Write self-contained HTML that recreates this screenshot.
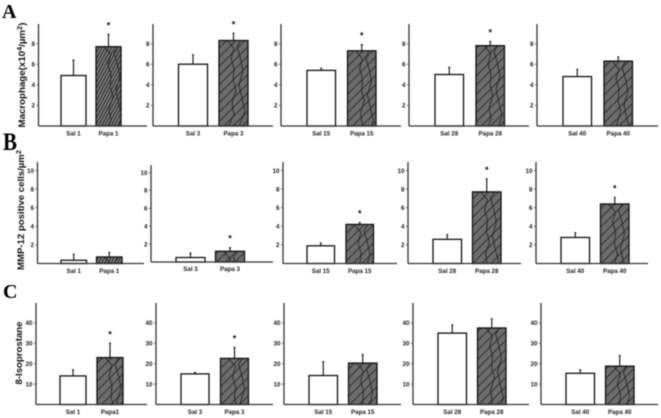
<!DOCTYPE html>
<html lang="en">
<head>
<meta charset="utf-8">
<title>Macrophage, MMP-12 and 8-Isoprostane bar charts</title>
<style>
html,body{margin:0;padding:0;background:#fff;}
#figure{display:block;width:661px;height:418px;filter:blur(0.5px);}
text{font-family:"Liberation Sans",sans-serif;}
.tick{font-size:6.3px;font-weight:bold;fill:#222;text-anchor:end;}
.cat{font-size:6.2px;font-weight:bold;fill:#222;text-anchor:middle;}
.star{font-size:9px;font-weight:bold;fill:#111;text-anchor:middle;}
.ylab{font-size:9px;font-weight:bold;fill:#111;text-anchor:middle;}
.letter{font-family:"Liberation Serif",serif;font-weight:bold;fill:#000;}
</style>
</head>
<body>
<svg id="figure" xmlns="http://www.w3.org/2000/svg" width="661" height="418" viewBox="0 0 661 418">
  <defs>
    <pattern id="hatch" patternUnits="userSpaceOnUse" width="6.5" height="7" patternTransform="rotate(45)">
      <rect width="6.5" height="7" fill="#6c6c6c"></rect>
      <line x1="0" y1="0" x2="0" y2="7" stroke="#1e1e1e" stroke-width="1.5"></line>
    </pattern>
    <pattern id="hatch-dense" patternUnits="userSpaceOnUse" width="2.8" height="5" patternTransform="rotate(28)">
      <rect width="2.8" height="5" fill="#7c7c7c"></rect>
      <line x1="0" y1="0" x2="0" y2="5" stroke="#181818" stroke-width="1.7"></line>
    </pattern>
    <pattern id="zigzag" patternUnits="objectBoundingBox" width="1" height="1">
      <path d="M8 0L15 8L12 18L15 28L14 40L17 50L13 62L15 74L10 84L19 96L14 110M22 0L18 6L21 16L24 30L20 44L23 58L26 70L21 84L25 98L22 110" fill="none" stroke="#1e1e1e" stroke-width="0.8"></path>
    </pattern>
  </defs>
  <rect width="661" height="418" fill="#fff"></rect>
  <text class="letter" x="2" y="18" font-size="20">A</text>
  <text class="letter" x="3" y="150" font-size="25" textLength="14" lengthAdjust="spacingAndGlyphs">B</text>
  <text class="letter" x="3" y="298" font-size="20">C</text>
  <text class="ylab" transform="translate(25,75) rotate(-90)" textLength="105" lengthAdjust="spacingAndGlyphs">Macrophage(x10<tspan font-size="7" dy="-3">4</tspan><tspan dy="3">/µm</tspan><tspan font-size="7" dy="-3">2</tspan><tspan dy="3">)</tspan></text>
  <text class="ylab" transform="translate(24,210) rotate(-90)" textLength="120" lengthAdjust="spacingAndGlyphs">MMP-12 positive cells/µm<tspan font-size="7" dy="-3">2</tspan></text>
  <text class="ylab" transform="translate(22,353) rotate(-90)" textLength="63" lengthAdjust="spacingAndGlyphs">8-Isoprostane</text>
  <g id="plots"></g>
</svg>
<script>
// ---- data ----
const salCategories = ["Sal 1", "Sal 3", "Sal 15", "Sal 28", "Sal 40"];
const papaCategories = ["Papa 1", "Papa 3", "Papa 15", "Papa 28", "Papa 40"];
const papaCategoriesC = ["Papa1", "Papa 3", "Papa 15", "Papa 28", "Papa 40"];

const macrophageSal = [4.9, 6.0, 5.4, 5.0, 4.8];
const macrophageSalTop = [6.4, 6.9, 5.6, 5.7, 5.5];
const macrophagePapa = [7.7, 8.3, 7.3, 7.8, 6.3];
const macrophagePapaTop = [8.9, 9.0, 7.9, 8.2, 6.7];
const macrophageStar = [1, 1, 1, 1, 0];
const macrophageTicks = [2, 4, 6, 8];

const mmpSal = [0.35, 0.5, 1.9, 2.6, 2.8];
const mmpSalTop = [1.0, 1.0, 2.2, 3.1, 3.3];
const mmpPapa = [0.7, 1.2, 4.2, 7.7, 6.4];
const mmpPapaTop = [1.2, 1.6, 4.4, 9.1, 7.1];
const mmpStar = [0, 1, 1, 1, 1];
const mmpTicks = [2, 4, 6, 8, 10];

const isoSal = [14, 15, 14.2, 35, 15.3];
const isoSalTop = [17, 15.7, 21, 39, 17];
const isoPapa = [23, 22.6, 20.3, 37.5, 18.8];
const isoPapaTop = [30, 28, 24.5, 42, 24];
const isoStar = [1, 1, 0, 0, 0];
const isoTicks = [10, 20, 30, 40];

// ---- layout ----
const rowLayouts = [
  {name: "macrophage", zero: 126, perUnit: 10.3, top: 24, labelY: 135.5,
   sal: macrophageSal, salTop: macrophageSalTop, papa: macrophagePapa, papaTop: macrophagePapaTop,
   star: macrophageStar, ticks: macrophageTicks, papaCats: papaCategories,
   frames: [
     {left: 38.5, right: 147, pad: 22.5, step: 35, w: 25, fill: "hatch-dense"},
     {left: 153, right: 273, pad: 25.5, step: 40.5, w: 29, fill: "hatch"},
     {left: 281, right: 401, pad: 26, step: 40.5, w: 28.5, fill: "hatch"},
     {left: 409, right: 529, pad: 26, step: 41, w: 28.5, fill: "hatch"},
     {left: 537, right: 658, pad: 26, step: 41, w: 28.5, fill: "hatch"}
   ]},
  {name: "mmp12", zero: 263.5, perUnit: 9.3, top: 162, labelY: 273,
   sal: mmpSal, salTop: mmpSalTop, papa: mmpPapa, papaTop: mmpPapaTop,
   star: mmpStar, ticks: mmpTicks, papaCats: papaCategories,
   frames: [
     {left: 37.5, right: 144, pad: 23.5, step: 35.5, w: 25.5, fill: "hatch-dense"},
     {left: 151, right: 273, pad: 25, step: 39.5, w: 29, zero: 262, perUnit: 8.95, top: 165, labelY: 271, fill: "hatch"},
     {left: 283, right: 397, pad: 24, step: 39, w: 27.5, fill: "hatch"},
     {left: 408, right: 521, pad: 25, step: 39.5, w: 28.5, fill: "hatch"},
     {left: 536, right: 648, pad: 25, step: 39.5, w: 28.5, fill: "hatch"}
   ]},
  {name: "isoprostane", zero: 404.5, perUnit: 2.04, top: 303, labelY: 414,
   sal: isoSal, salTop: isoSalTop, papa: isoPapa, papaTop: isoPapaTop,
   star: isoStar, ticks: isoTicks, papaCats: papaCategoriesC,
   frames: [
     {left: 36, right: 147, pad: 24, step: 37, w: 26, fill: "hatch"},
     {left: 156, right: 273, pad: 25, step: 39.5, w: 28, fill: "hatch"},
     {left: 284, right: 401, pad: 25, step: 39.5, w: 28.5, fill: "hatch"},
     {left: 413, right: 529, pad: 25, step: 39.5, w: 28.5, fill: "hatch"},
     {left: 541, right: 658, pad: 25, step: 39.5, w: 28.5, fill: "hatch"}
   ]}
];

const NS = "http://www.w3.org/2000/svg";
const plots = document.getElementById("plots");

function make(tag, attrs, parent, content) {
  const el = document.createElementNS(NS, tag);
  for (const k in attrs) el.setAttribute(k, attrs[k]);
  if (content !== undefined) el.textContent = content;
  parent.appendChild(el);
  return el;
}

function drawBar(g, x, w, y0, yVal, yTop, fill, key) {
  const err = make("line", {x1: x + w / 2, x2: x + w / 2, y1: yVal, y2: yTop, stroke: "#222", "stroke-width": 1.2}, g);
  
  
  const cap = make("line", {x1: x + w / 2 - 1, x2: x + w / 2 + 1, y1: yTop, y2: yTop, stroke: "#222", "stroke-width": 1.2}, g);
  
  
  const bar = make("rect", {x: x, y: yVal, width: w, height: y0 - yVal, fill: fill, stroke: "#111", "stroke-width": 1.3}, g);
  
  
  if (fill !== "#fff") {
    const over = make("rect", {x: x, y: yVal, width: w, height: y0 - yVal, fill: "url(#zigzag)"}, g);
    
    
  }
}

rowLayouts.forEach(function (row) {
  row.frames.forEach(function (f, i) {
    const zero = f.zero !== undefined ? f.zero : row.zero;
    const perUnit = f.perUnit !== undefined ? f.perUnit : row.perUnit;
    const top = f.top !== undefined ? f.top : row.top;
    const labelY = f.labelY !== undefined ? f.labelY : row.labelY;
    const yScale = function (v) { return zero - v * perUnit; };
    const xScale = function (k) { return f.left + f.pad + k * f.step; };
    const key = row.name + '-' + (i + 1);

    const g = make("g", {}, plots);
    
    

    drawBar(g, xScale(0), f.w, zero, yScale(row.sal[i]), yScale(row.salTop[i]), "#fff", 'sal-' + key);
    drawBar(g, xScale(1), f.w, zero, yScale(row.papa[i]), yScale(row.papaTop[i]), "url(#" + f.fill + ")", 'papa-' + key);

    const yAxis = make("line", {x1: f.left, x2: f.left, y1: top, y2: zero, stroke: "#333", "stroke-width": 1.3}, g);
    
    
    const xAxis = make("line", {x1: f.left, x2: f.right, y1: zero, y2: zero, stroke: "#333", "stroke-width": 1.3}, g);
    
    

    row.ticks.forEach(function (t) {
      const mark = make("line", {x1: f.left - 2, x2: f.left, y1: yScale(t), y2: yScale(t), stroke: "#444", "stroke-width": 0.8}, g);
      
      
      const label = make("text", {class: "tick", x: f.left - 3.5, y: yScale(t) + 2.3}, g, String(t));
      
      
    });

    const salLabel = make("text", {class: "cat", x: xScale(0) + f.w / 2, y: labelY}, g, salCategories[i]);
    
    
    const papaLabel = make("text", {class: "cat", x: xScale(1) + f.w / 2, y: labelY}, g, row.papaCats[i]);
    
    

    if (row.star[i]) {
      const star = make("text", {class: "star", x: xScale(1) + f.w / 2, y: yScale(row.papaTop[i]) - 6}, g, "*");
      
      
    }
  });
});
</script>
</body>
</html>
